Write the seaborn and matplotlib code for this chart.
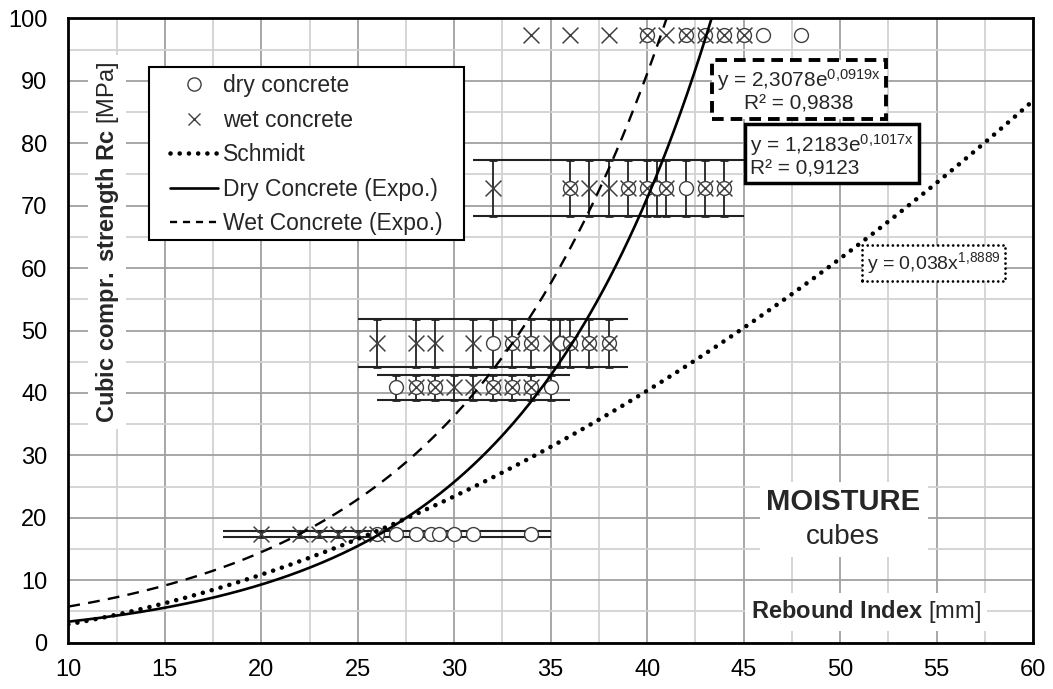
import numpy as np
import pandas as pd
import matplotlib
matplotlib.use("Agg")
import matplotlib.pyplot as plt
from matplotlib.lines import Line2D
from matplotlib.patches import Rectangle
import seaborn as sns

# ---------------- data ----------------
row_strength = [97.3, 72.8, 48.0, 40.9, 17.45]
dry_rebound = [
    [40, 42, 43, 44, 45, 46, 48],
    [36, 39, 40, 40.5, 41, 42, 43, 44],
    [32, 33, 34, 35.5, 36, 37, 38],
    [27, 28, 29, 32, 33, 34, 35],
    [26, 27, 28, 28.8, 29.2, 30, 31, 34],
]
wet_rebound = [
    [34, 36, 38, 40, 41, 42, 43, 44, 45],
    [32, 36, 37, 38, 39, 40, 41, 43, 44],
    [26, 28, 29, 31, 33, 34, 35, 36, 37, 38],
    [28, 29, 30, 31, 32, 33, 34],
    [20, 22, 23, 24, 25, 26],
]
# rows with scatter bands (rows 2..5)
band_rows = [1, 2, 3, 4]
band_sd = [4.5, 3.8, 1.95, 0.48]
band_xmin = [31, 25, 26, 18]
band_xmax = [45, 39, 36, 35]

# trend-line coefficients (as printed on the chart)
schmidt_a, schmidt_b = 0.038, 1.8889
dry_a, dry_b = 1.2183, 0.1017
wet_a, wet_b = 2.3078, 0.0919

x_ticks = [10, 15, 20, 25, 30, 35, 40, 45, 50, 55, 60]
y_ticks = [0, 10, 20, 30, 40, 50, 60, 70, 80, 90, 100]

# ---------------- style ----------------
sns.set_theme(style="white")
plt.rcParams["font.family"] = ["Liberation Sans", "DejaVu Sans"]
plt.rcParams["mathtext.fontset"] = "custom"
plt.rcParams["mathtext.rm"] = "Liberation Sans"
plt.rcParams["mathtext.bf"] = "Liberation Sans:bold"
plt.rcParams["mathtext.it"] = "Liberation Sans:italic"

fig, ax = plt.subplots(figsize=(10.53, 6.89), dpi=100)
fig.subplots_adjust(left=0.0649, right=0.981, bottom=0.0672, top=0.9734)

# long-form frames
rows_d, rows_w = [], []
for i, s in enumerate(row_strength):
    for x in dry_rebound[i]:
        rows_d.append({"rebound": x, "strength": s})
    for x in wet_rebound[i]:
        rows_w.append({"rebound": x, "strength": s})
df_dry = pd.DataFrame(rows_d)
df_wet = pd.DataFrame(rows_w)

# bands: horizontal lines + vertical error bars
for k, r in enumerate(band_rows):
    m = row_strength[r]
    sd = band_sd[k]
    ax.hlines([m - sd, m + sd], band_xmin[k], band_xmax[k], color="#222222", lw=1.5, zorder=2)
    xs = sorted(set(dry_rebound[r]) | set(wet_rebound[r]))
    ax.errorbar(xs, [m] * len(xs), yerr=sd, fmt="none", ecolor="#222222",
                elinewidth=1.3, capsize=3, capthick=2, zorder=2)

# markers
sns.scatterplot(data=df_dry, x="rebound", y="strength", marker="o", s=100,
                facecolor="white", edgecolor="#404040", linewidth=1.0, ax=ax, zorder=3)
sns.scatterplot(data=df_wet, x="rebound", y="strength", marker="x", s=130,
                color="#404040", linewidth=1.1, ax=ax, zorder=4)

# trend lines
x_fit = np.linspace(10, 60, 600)
df_fit = pd.DataFrame({
    "x": x_fit,
    "schmidt": schmidt_a * x_fit ** schmidt_b,
    "dry": dry_a * np.exp(dry_b * x_fit),
    "wet": wet_a * np.exp(wet_b * x_fit),
})
sns.lineplot(data=df_fit, x="x", y="schmidt", color="black", lw=3.3,
             linestyle=(0, (0.01, 2.0)), dash_capstyle="round", ax=ax, zorder=5)
sns.lineplot(data=df_fit, x="x", y="dry", color="black", lw=1.9, ax=ax, zorder=5)
sns.lineplot(data=df_fit, x="x", y="wet", color="black", lw=1.7,
             linestyle=(0, (5, 3.5)), ax=ax, zorder=5)

# axes
ax.set_xlim(10, 60)
ax.set_ylim(0, 100)
ax.set_xticks(x_ticks)
ax.set_yticks(y_ticks)
ax.set_xticks(np.arange(12.5, 60, 5), minor=True)
ax.set_yticks(np.arange(5, 100, 10), minor=True)
ax.set_axisbelow(True)
ax.grid(which="major", color="#a0a0a0", lw=1.3)
ax.grid(which="minor", color="#d2d2d2", lw=1.3)
ax.tick_params(which="both", length=0, labelsize=17, colors="black")
ax.tick_params(axis="x", pad=12)
ax.tick_params(axis="y", pad=15)
ax.set_xlabel("")
ax.set_ylabel("")
for sp in ax.spines.values():
    sp.set_color("black")
    sp.set_linewidth(2)

# inner axis labels with white backgrounds
ax.text(0.0401, 0.6417, r"$\mathbf{Cubic\ compr.\ strength\ Rc}$ [MPa]", rotation=90,
        transform=ax.transAxes, ha="center", va="center", fontsize=17,
        bbox=dict(boxstyle="square,pad=0.25", fc="white", ec="none"), zorder=1.5)
ax.text(0.827, 0.0492, r"$\mathbf{Rebound\ Index}$ [mm]", transform=ax.transAxes,
        ha="center", va="center", fontsize=17,
        bbox=dict(boxstyle="square,pad=0.25", fc="white", ec="none"), zorder=1.5)
ax.add_patch(Rectangle((0.717, 0.1373), 0.174, 0.120, transform=ax.transAxes,
                       fc="white", ec="none", zorder=1.5))
ax.text(0.803, 0.2255, "MOISTURE", transform=ax.transAxes, ha="center", va="center",
        fontsize=21, fontweight="bold", zorder=1.6)
ax.text(0.803, 0.1694, "cubes", transform=ax.transAxes, ha="center", va="center",
        fontsize=20, zorder=1.6)

# equation boxes
ax.text(47.85, 88.5, "y = 2,3078e$^{\\mathregular{0{,}0919x}}$\nR² = 0,9838",
        ha="center", va="center", multialignment="center", fontsize=15, zorder=6,
        linespacing=1.1,
        bbox=dict(boxstyle="square,pad=0.25", fc="white", ec="black", lw=2.8,
                  ls=(0, (3, 1.8))))
ax.text(45.35, 78.1, "y = 1,2183e$^{\\mathregular{0{,}1017x}}$\nR² = 0,9123",
        ha="left", va="center", multialignment="left", fontsize=15, zorder=6,
        linespacing=1.1,
        bbox=dict(boxstyle="square,pad=0.25", fc="white", ec="black", lw=2.5))
ax.text(54.85, 60.8, "y = 0,038x$^{\\mathregular{1{,}8889}}$",
        ha="center", va="center", fontsize=14, zorder=6,
        bbox=dict(boxstyle="square,pad=0.25", fc="white", ec="black", lw=2.0,
                  ls=(0, (0.01, 1.8)), capstyle="round"))

# legend (frame drawn separately to match the wide padding)
ax.add_patch(Rectangle((0.0837, 0.6449), 0.3265, 0.2771, transform=ax.transAxes,
                       fc="white", ec="black", lw=1.5, zorder=6.9))
handles = [
    Line2D([], [], ls="none", marker="o", ms=9.5, mfc="white", mec="#404040", mew=1.0),
    Line2D([], [], ls="none", marker="x", ms=8.5, color="#404040", mew=1.0),
    Line2D([], [], color="black", lw=3.3, ls=(0, (0.01, 2.0)), dash_capstyle="round"),
    Line2D([], [], color="black", lw=1.9),
    Line2D([], [], color="black", lw=1.7, ls=(0, (3, 2.5))),
]
labels = ["dry concrete", "wet concrete", "Schmidt", "Dry Concrete (Expo.)", "Wet Concrete (Expo.)"]
leg = ax.legend(handles, labels, loc="upper left", bbox_to_anchor=(0.0959, 0.9252),
                borderaxespad=0, fontsize=16.5, handlelength=2.1, handletextpad=0.2,
                labelspacing=0.5, borderpad=0.4, frameon=False)
leg.set_zorder(7)

fig.savefig("out.png", dpi=100)
